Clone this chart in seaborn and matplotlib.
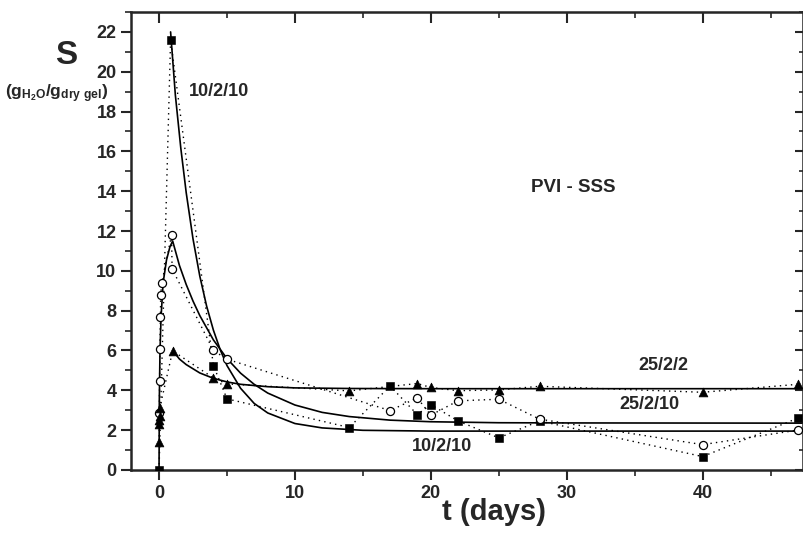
import matplotlib
matplotlib.use('Agg')
import matplotlib.pyplot as plt
from matplotlib.ticker import MultipleLocator
import seaborn as sns

# data (t in days, S in g H2O / g dry gel)
# 10/2/10 (squares)
sq_t = [0, 0.85, 4, 5, 14, 17, 19, 20, 22, 25, 28, 40, 47]
sq_s = [0, 21.6, 5.24, 3.57, 2.13, 4.22, 2.78, 3.28, 2.46, 1.61, 2.46, 0.67, 2.6]

# 25/2/10 (open circles)
ci_t = [0.02, 0.04, 0.06, 0.1, 0.12, 0.2, 0.92, 0.96, 4, 5, 17, 19, 20, 22, 25, 28, 40, 47]
ci_s = [2.86, 4.47, 6.08, 7.7, 8.8, 9.38, 11.8, 10.1, 6.0, 5.56, 2.98, 3.62, 2.75, 3.47, 3.55, 2.55, 1.27, 2.0]

# 25/2/2 (triangles)
tr_t = [0.01, 0.02, 0.03, 0.04, 0.05, 1.0, 4, 5, 14, 19, 20, 22, 25, 28, 40, 47]
tr_s = [1.4, 2.3, 2.5, 2.7, 3.1, 5.98, 4.62, 4.32, 3.97, 4.34, 4.14, 3.98, 4.02, 4.2, 3.9, 4.3]

# fitted curves (solid lines)
fit_a_t = [0.85, 1.2, 1.6, 2.0, 2.5, 3.0, 3.5, 4.0, 4.5, 5.0, 6.0, 7.0, 8.0, 10.0, 12.0, 15.0, 20.0, 30.0, 47.4]
fit_a_s = [22.0, 18.83, 16.17, 13.92, 11.6, 9.73, 8.23, 7.02, 6.04, 5.24, 4.1, 3.34, 2.86, 2.33, 2.11, 1.99, 1.95, 1.95, 1.95]

fit_b_t = [0, 0.02, 0.07, 0.15, 0.3, 0.55, 0.8, 1.0, 1.5, 2.0, 2.5, 3.0, 4.0, 5.0, 6.0, 7.0, 8.0, 10.0, 12.0, 14.0, 17.0, 20.0, 25.0, 30.0, 47.4]
fit_b_s = [0, 3.5, 6.0, 7.7, 9.4, 10.55, 11.2, 11.5, 10.27, 9.31, 8.48, 7.75, 6.53, 5.59, 4.86, 4.3, 3.86, 3.26, 2.89, 2.68, 2.5, 2.42, 2.37, 2.36, 2.35]

fit_c_t = [1.0, 1.5, 2.0, 3.0, 4.0, 5.0, 6.0, 8.0, 10.0, 14.0, 20.0, 47.4]
fit_c_s = [6.0, 5.57, 5.29, 4.87, 4.6, 4.42, 4.3, 4.18, 4.12, 4.09, 4.08, 4.08]

sns.set_style('ticks')
plt.rcParams['font.family'] = ['Liberation Sans', 'DejaVu Sans']
plt.rcParams['font.weight'] = 'bold'
plt.rcParams['mathtext.fontset'] = 'custom'
plt.rcParams['mathtext.rm'] = 'Liberation Sans:bold'
plt.rcParams['mathtext.it'] = 'Liberation Sans:bold'
plt.rcParams['mathtext.bf'] = 'Liberation Sans:bold'

fig = plt.figure(figsize=(8.04, 5.34), dpi=100)
ax = fig.add_axes([0.163, 0.12, 0.836, 0.8575])

dots = (0, (1, 3))
for t, s in [(sq_t, sq_s), (ci_t, ci_s), (tr_t, tr_s)]:
    sns.lineplot(x=t, y=s, sort=False, estimator=None, color='black',
                 linewidth=1.0, linestyle=dots, ax=ax)

for t, s in [(fit_a_t, fit_a_s), (fit_b_t, fit_b_s), (fit_c_t, fit_c_s)]:
    sns.lineplot(x=t, y=s, sort=False, estimator=None, color='black',
                 linewidth=1.2, ax=ax)

sns.scatterplot(x=sq_t, y=sq_s, marker='s', s=28, color='black', edgecolor='black', zorder=4, ax=ax)
sns.scatterplot(x=ci_t, y=ci_s, marker='o', s=34, facecolor='white', edgecolor='black',
                linewidth=0.9, zorder=4, ax=ax)
sns.scatterplot(x=tr_t, y=tr_s, marker='^', s=40, color='black', edgecolor='black', zorder=4, ax=ax)

ax.set_xlim(-2.06, 47.4)
ax.set_ylim(0, 23)
ax.set_xticks([0, 10, 20, 30, 40])
ax.set_yticks(range(0, 23, 2))
ax.xaxis.set_minor_locator(MultipleLocator(5))
ax.yaxis.set_minor_locator(MultipleLocator(1))
ax.tick_params(which='major', direction='out', length=7, width=1.5, labelsize=13)
ax.tick_params(which='minor', direction='out', length=4, width=1.2)
for sp in ax.spines.values():
    sp.set_linewidth(1.8)
    sp.set_visible(True)

top = ax.secondary_xaxis('top')
top.set_xticks([0, 10, 20, 30, 40])
top.xaxis.set_minor_locator(MultipleLocator(5))
top.tick_params(which='major', direction='in', length=8, width=1.5, labeltop=False)
top.tick_params(which='minor', direction='in', length=4, width=1.2)
right = ax.secondary_yaxis('right')
right.set_yticks(range(0, 23, 2))
right.yaxis.set_minor_locator(MultipleLocator(1))
right.tick_params(which='major', direction='in', length=6, width=1.5, labelright=False)
right.tick_params(which='minor', direction='in', length=3, width=1.2)

ax.set_xlabel('')
ax.set_ylabel('')
fig.text(494 / 804, 1 - 512 / 534, 't (days)', fontsize=21, fontweight='bold', ha='center', va='center')
fig.text(66 / 804, 1 - 56 / 534, 'S', fontsize=24, fontweight='bold', ha='center', va='center')
fig.text(57 / 804, 1 - 94 / 534, r'$(g_{H_2O}/g_{dry\ gel})$', fontsize=12.5, ha='center', va='center')

ax.text(4.4, 19.0, '10/2/10', fontsize=13, fontweight='bold', ha='center', va='center')
ax.text(30.5, 14.2, 'PVI - SSS', fontsize=13.5, fontweight='bold', ha='center', va='center')
ax.text(37.1, 5.23, '25/2/2', fontsize=13, fontweight='bold', ha='center', va='center')
ax.text(36.1, 3.27, '25/2/10', fontsize=13, fontweight='bold', ha='center', va='center')
ax.text(20.8, 1.2, '10/2/10', fontsize=13, fontweight='bold', ha='center', va='center')

fig.savefig('out.png', dpi=100)
